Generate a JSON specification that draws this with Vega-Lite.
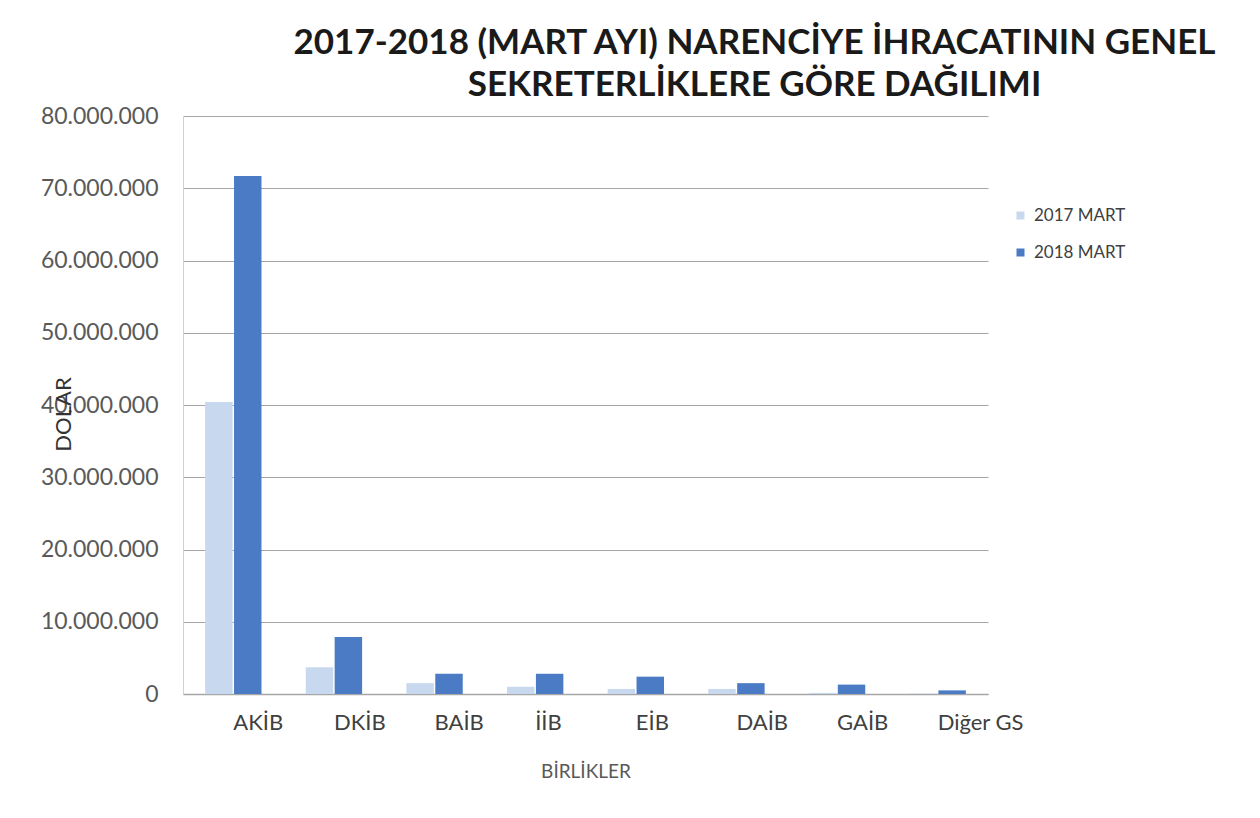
{
  "$schema": "https://vega.github.io/schema/vega-lite/v6.json",
  "width": 805,
  "height": 578,
  "autosize": "none",
  "padding": {"left": 183, "top": 116, "right": 272, "bottom": 124},
  "background": "white",
  "title": {
    "text": ["2017-2018 (MART AYI) NARENCİYE İHRACATININ GENEL", "SEKRETERLİKLERE GÖRE DAĞILIMI"],
    "font": "Lato",
    "fontSize": 35,
    "fontWeight": "bold",
    "color": "#1a1a1a",
    "anchor": "middle",
    "dx": 169,
    "lineHeight": 42,
    "offset": 2
  },
  "data": {
    "values": [
      {"birlik": "AKİB", "yil": "2017 MART", "deger": 40400000},
      {"birlik": "AKİB", "yil": "2018 MART", "deger": 71700000},
      {"birlik": "DKİB", "yil": "2017 MART", "deger": 3700000},
      {"birlik": "DKİB", "yil": "2018 MART", "deger": 7900000},
      {"birlik": "BAİB", "yil": "2017 MART", "deger": 1500000},
      {"birlik": "BAİB", "yil": "2018 MART", "deger": 2800000},
      {"birlik": "İİB", "yil": "2017 MART", "deger": 1000000},
      {"birlik": "İİB", "yil": "2018 MART", "deger": 2800000},
      {"birlik": "EİB", "yil": "2017 MART", "deger": 700000},
      {"birlik": "EİB", "yil": "2018 MART", "deger": 2400000},
      {"birlik": "DAİB", "yil": "2017 MART", "deger": 700000},
      {"birlik": "DAİB", "yil": "2018 MART", "deger": 1500000},
      {"birlik": "GAİB", "yil": "2017 MART", "deger": 150000},
      {"birlik": "GAİB", "yil": "2018 MART", "deger": 1300000},
      {"birlik": "Diğer GS", "yil": "2017 MART", "deger": 50000},
      {"birlik": "Diğer GS", "yil": "2018 MART", "deger": 500000}
    ]
  },
  "mark": {"type": "bar"},
  "encoding": {
    "x": {
      "field": "birlik",
      "type": "nominal",
      "sort": null,
      "scale": {"paddingInner": 0.44, "paddingOuter": 0.22},
      "title": "BİRLİKLER",
      "axis": {
        "labelAngle": 0,
        "labelAlign": "left",
        "labelDx": -6,
        "labelFont": "Lato",
        "labelFontSize": 22,
        "labelColor": "#404040",
        "labelPadding": 18,
        "ticks": false,
        "domainColor": "#a6a6a6",
        "domainWidth": 1.5,
        "titleFont": "Lato",
        "titleFontSize": 19,
        "titleFontWeight": "normal",
        "titleColor": "#595959",
        "titlePadding": 29
      }
    },
    "xOffset": {"field": "yil", "type": "nominal", "scale": {"paddingInner": 0.05}},
    "y": {
      "field": "deger",
      "type": "quantitative",
      "scale": {"domain": [0, 80000000], "nice": false},
      "title": "DOLAR",
      "axis": {
        "values": [0, 10000000, 20000000, 30000000, 40000000, 50000000, 60000000, 70000000, 80000000],
        "labelExpr": "replace(format(datum.value, ',.0f'), /,/g, '.')",
        "labelFont": "Lato",
        "labelFontSize": 23,
        "labelColor": "#595959",
        "labelPadding": 25,
        "ticks": false,
        "domain": true,
        "domainColor": "#d0d0d0",
        "grid": true,
        "gridColor": "#a6a6a6",
        "gridWidth": 1,
        "titleFont": "Lato",
        "titleFontSize": 22,
        "titleFontWeight": "normal",
        "titleColor": "#333333",
        "titleX": -120,
        "titleY": 298,
        "titleAngle": -90,
        "titleAlign": "center",
        "titleBaseline": "middle"
      }
    },
    "color": {
      "field": "yil",
      "type": "nominal",
      "scale": {"domain": ["2017 MART", "2018 MART"], "range": ["#c8d8ee", "#4a7bc4"]},
      "legend": {
        "title": null,
        "orient": "none",
        "legendX": 829,
        "legendY": 91,
        "symbolType": "square",
        "symbolSize": 64,
        "labelFont": "Lato",
        "labelFontSize": 17,
        "labelColor": "#404040",
        "rowPadding": 19,
        "labelOffset": 5
      }
    }
  },
  "config": {"view": {"stroke": null}}
}
